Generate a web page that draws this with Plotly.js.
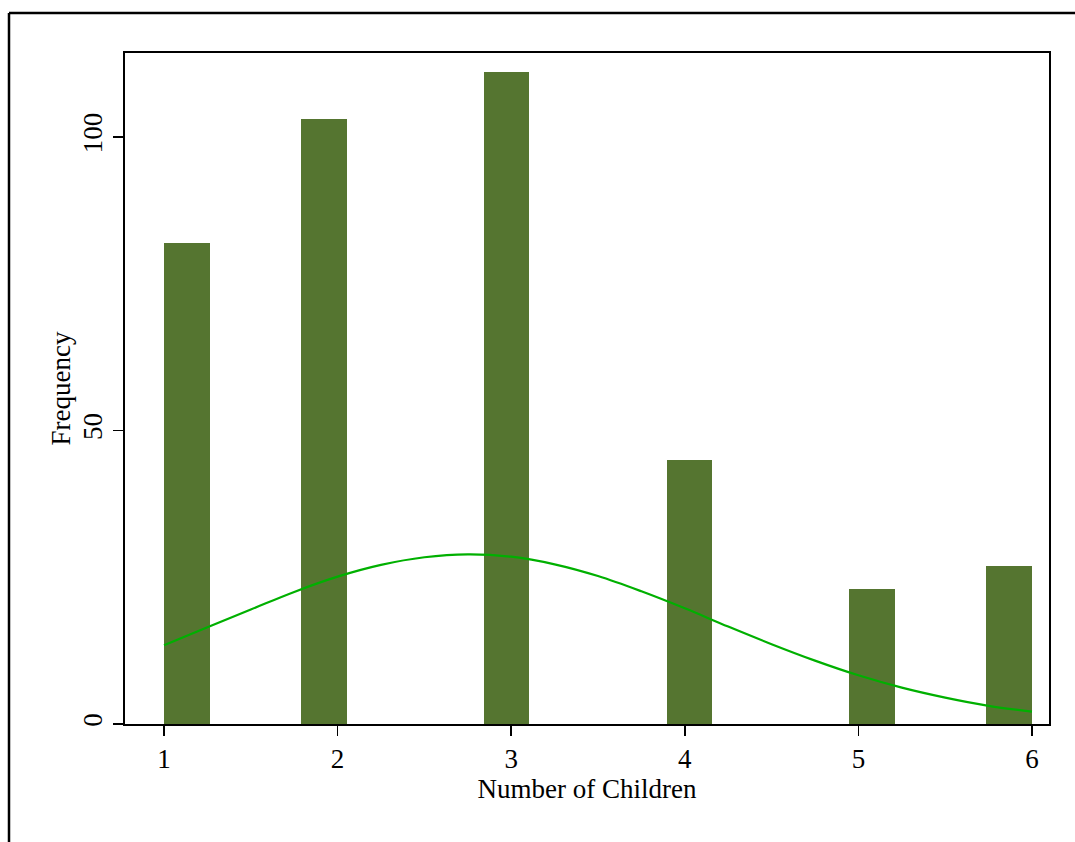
<!DOCTYPE html>
<html>
<head>
<meta charset="utf-8">
<script src="https://cdn.plot.ly/plotly-3.0.1.min.js"></script>
<style>
  html, body { margin: 0; padding: 0; background: #ffffff; }
  #chart { width: 1075px; height: 842px; }
</style>
</head>
<body>
<div id="chart"></div>
<script>
// Number of children (value) and observed frequency
const childrenValues = [1, 2, 3, 4, 5, 6];
const frequencies = [82, 103, 111, 45, 23, 27];

// Normal density overlay (scaled to frequency)
const curveX = [1, 1.25, 1.5, 1.75, 2, 2.25, 2.5, 2.75, 3, 3.25, 3.5, 3.75, 4, 4.25, 4.5, 4.75, 5, 5.25, 5.5, 5.75, 6];
const curveY = [13.4, 16.5, 19.5, 22.5, 25.1, 27.1, 28.4, 28.9, 28.5, 27.2, 25.2, 22.6, 19.7, 16.6, 13.6, 10.8, 8.3, 6.2, 4.5, 3.1, 2.1];

// Axis ticks
const xTicks = [1, 2, 3, 4, 5, 6];
const yTicks = [0, 50, 100];

// Histogram binning (Stata-like): 19 bins from min to max
const nBins = 19;
const xMin = Math.min(...childrenValues), xMax = Math.max(...childrenValues);
const binW = (xMax - xMin) / nBins;
const barX = childrenValues.map(v => {
  let i = Math.floor((v - xMin) / binW + 1e-9);
  if (i >= nBins) i = nBins - 1;
  return xMin + (i + 0.5) * binW;
});

const font = 'Liberation Serif, Times New Roman, serif';

const traces = [
  {
    type: 'bar',
    x: barX,
    y: frequencies,
    width: binW,
    marker: { color: '#557530', line: { width: 0 } },
    hoverinfo: 'x+y',
    showlegend: false
  },
  {
    type: 'scatter',
    mode: 'lines',
    x: curveX,
    y: curveY,
    line: { color: '#00b000', width: 2.2, shape: 'spline' },
    showlegend: false
  }
];

const L = 125, R = 26, T = 53, B = 118, W = 1075, H = 842;
const pw = W - L - R, ph = H - T - B;
const px = v => (v - L) / pw;
const py = v => (H - B - v) / ph;

const layout = {
  width: W,
  height: H,
  margin: { l: L, r: R, t: T, b: B, pad: 0 },
  paper_bgcolor: '#ffffff',
  plot_bgcolor: '#ffffff',
  font: { family: font, size: 27, color: '#000000' },
  bargap: 0,
  xaxis: {
    range: [0.7753, 6.098],
    tickvals: xTicks,
    ticktext: xTicks.map(String),
    ticks: 'outside',
    ticklen: 10,
    tickwidth: 1.5,
    tickcolor: '#000000',
    showgrid: false,
    zeroline: false,
    showline: true,
    linecolor: '#000000',
    linewidth: 2,
    mirror: true,
    tickfont: { family: font, size: 27 },
    title: { text: 'Number of Children', font: { family: font, size: 27 }, standoff: 1 }
  },
  yaxis: {
    range: [0, 114.3],
    tickvals: yTicks,
    ticktext: yTicks.map(String),
    tickangle: -90,
    ticks: 'outside',
    ticklen: 10,
    tickwidth: 1.5,
    tickcolor: '#000000',
    showgrid: false,
    zeroline: false,
    showline: true,
    linecolor: '#000000',
    linewidth: 2,
    mirror: true,
    tickfont: { family: font, size: 27 },
    title: { text: 'Frequency', font: { family: font, size: 27 }, standoff: 0 }
  },
  shapes: [
    { type: 'line', xref: 'paper', yref: 'paper', x0: px(9), x1: px(1075), y0: py(13), y1: py(13), line: { color: '#000000', width: 2.5 } },
    { type: 'line', xref: 'paper', yref: 'paper', x0: px(9), x1: px(9), y0: py(13), y1: py(842), line: { color: '#000000', width: 2.5 } }
  ]
};

Plotly.newPlot('chart', traces, layout, { displayModeBar: false, staticPlot: true });
</script>
</body>
</html>
